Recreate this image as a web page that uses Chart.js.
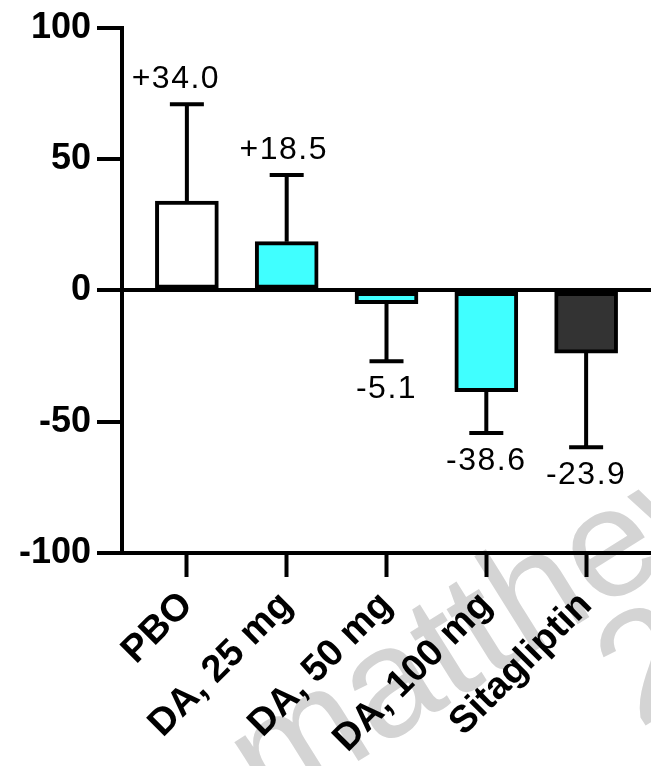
<!DOCTYPE html>
<html>
<head>
<meta charset="utf-8">
<script src="https://cdn.jsdelivr.net/npm/chart.js@4.4.1/dist/chart.umd.min.js"></script>
<style>
  html, body { margin: 0; padding: 0; background: #fff; }
  #wrap { width: 651px; height: 766px; }
</style>
</head>
<body>
<div id="wrap"><canvas id="changeChart" width="651" height="766"></canvas></div>
<script>
// data
const categories = ["PBO", "DA, 25 mg", "DA, 50 mg", "DA, 100 mg", "Sitagliptin"];
const meanChange = [34.0, 18.5, -5.1, -38.6, -23.9];
const errSize = [36.8, 25.4, 21.9, 15.7, 35.8];
const valueLabels = ["+34.0", "+18.5", "-5.1", "-38.6", "-23.9"];
const yTicks = [-100, -50, 0, 50, 100];
const barColors = ["#ffffff", "#40ffff", "#40ffff", "#40ffff", "#333333"];

const FONT = "'Liberation Sans', Arial, sans-serif";

// one-sided error bars + value labels
const errorBarPlugin = {
  id: "errorBars",
  afterDatasetsDraw(chart) {
    const ctx = chart.ctx;
    const yScale = chart.scales.y;
    const meta = chart.getDatasetMeta(0);
    ctx.save();
    ctx.strokeStyle = "#000";
    ctx.lineWidth = 4;
    meta.data.forEach((bar, i) => {
      const v = meanChange[i];
      const dir = v >= 0 ? 1 : -1;
      const yEnd = yScale.getPixelForValue(v);
      const yErr = yScale.getPixelForValue(v + dir * errSize[i]);
      ctx.beginPath();
      ctx.moveTo(bar.x, yEnd);
      ctx.lineTo(bar.x, yErr);
      ctx.moveTo(bar.x - 17, yErr);
      ctx.lineTo(bar.x + 17, yErr);
      ctx.stroke();

      ctx.fillStyle = "#000";
      ctx.font = "32px " + FONT;
      ctx.letterSpacing = "1.5px";
      ctx.textAlign = "center";
      ctx.textBaseline = "alphabetic";
      if (dir > 0) {
        ctx.fillText(valueLabels[i], bar.x - (i === 0 ? 11 : 3), yErr - 16);
      } else {
        ctx.fillText(valueLabels[i], bar.x, yErr + 37);
      }
    });
    ctx.restore();
  },
};

// faint watermark behind everything
const watermarkPlugin = {
  id: "watermark",
  beforeDraw(chart) {
    const ctx = chart.ctx;
    ctx.save();
    ctx.translate(269, 817);
    ctx.rotate(-32 * Math.PI / 180);
    ctx.fillStyle = "#d4d4d4";
    ctx.font = "155px " + FONT;
    ctx.textBaseline = "alphabetic";
    ctx.fillText("matthew", 0, 0);
    ctx.fillText("20", 360, 122);
    ctx.restore();
  },
};

const ctx = document.getElementById("changeChart").getContext("2d");
new Chart(ctx, {
  type: "bar",
  data: {
    datasets: [
      {
        data: meanChange.map((v, i) => ({ x: i, y: v })),
        backgroundColor: barColors,
        borderColor: "#000",
        borderWidth: 4,
        borderSkipped: false,
        barThickness: 63,
      },
    ],
  },
  options: {
    responsive: false,
    animation: false,
    layout: { padding: { top: 22, right: 0, left: 0, bottom: 0 } },
    plugins: {
      legend: { display: false },
      tooltip: { enabled: false },
    },
    scales: {
      x: {
        type: "linear",
        offset: false,
        min: -0.65,
        max: 4.65,
        afterBuildTicks: (scale) => {
          scale.ticks = categories.map((_, i) => ({ value: i }));
        },
        afterFit: (scale) => {
          scale.height = 213;
        },
        border: { display: true, color: "#000", width: 4 },
        grid: {
          offset: false,
          drawOnChartArea: false,
          drawTicks: true,
          tickLength: 24,
          tickColor: "#000",
          tickWidth: 4,
        },
        ticks: {
          autoSkip: false,
          minRotation: 45,
          maxRotation: 45,
          padding: 6,
          color: "#000",
          font: { family: FONT, size: 38, weight: "bold" },
          callback: (value, index) => categories[index],
        },
      },
      y: {
        min: -100,
        max: 100,
        afterBuildTicks: (scale) => {
          scale.ticks = yTicks.map((v) => ({ value: v }));
        },
        afterFit: (scale) => {
          scale.width = 122;
        },
        border: { display: true, color: "#000", width: 4 },
        grid: {
          color: (c) => (c.tick && c.tick.value === 0 ? "#000" : "rgba(0,0,0,0)"),
          lineWidth: 4,
          tickLength: 25,
          tickColor: "#000",
          tickWidth: 4,
        },
        ticks: {
          padding: 6,
          color: "#000",
          font: { family: FONT, size: 36, weight: "bold" },
        },
      },
    },
  },
  plugins: [watermarkPlugin, errorBarPlugin],
});
</script>
</body>
</html>
